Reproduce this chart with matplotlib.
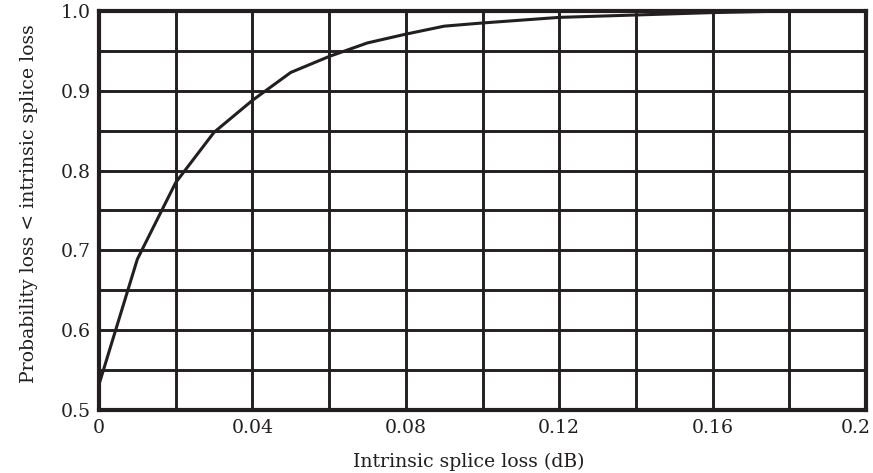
import matplotlib
matplotlib.use("Agg")
import matplotlib.pyplot as plt
import matplotlib.transforms as mtransforms

# Cumulative probability of intrinsic splice loss
loss_db = [0.0, 0.01, 0.02, 0.03, 0.04, 0.05, 0.06, 0.07, 0.08, 0.09,
           0.10, 0.12, 0.14, 0.16, 0.18, 0.19]
probability = [0.532, 0.689, 0.785, 0.848, 0.888, 0.923, 0.943, 0.960, 0.971, 0.981,
               0.985, 0.992, 0.995, 0.998, 1.0, 1.0]

x_ticks = [0.0, 0.04, 0.08, 0.12, 0.16, 0.20]
x_tick_labels = ["0", "0.04", "0.08", "0.12", "0.16", "0.2"]
y_ticks = [0.5, 0.6, 0.7, 0.8, 0.9, 1.0]
y_tick_labels = ["0.5", "0.6", "0.7", "0.8", "0.9", "1.0"]
x_grid = [i * 0.02 for i in range(11)]
y_grid = [0.5 + i * 0.05 for i in range(11)]

ink = "#231f20"
plt.rcParams["font.family"] = ["DejaVu Serif"]
fs = 13.6

fig = plt.figure(figsize=(8.73, 4.73), dpi=100)
ax = fig.add_axes([99 / 873, 1 - 410 / 473, 767 / 873, 399 / 473])

for xv in x_grid:
    ax.axvline(xv, color=ink, lw=2.1, zorder=1)
for yv in y_grid:
    ax.axhline(yv, color=ink, lw=2.1, zorder=1)

ax.plot(loss_db, probability, color=ink, lw=2.2, zorder=3, clip_on=False,
        solid_joinstyle="miter")

ax.set_xlim(0, 0.2)
ax.set_ylim(0.5, 1.0)
ax.set_xticks(x_ticks)
ax.set_xticklabels(x_tick_labels)
ax.set_yticks(y_ticks)
ax.set_yticklabels(y_tick_labels)
ax.tick_params(length=0, labelsize=fs, colors=ink)
ax.tick_params(axis="x", pad=6.5)
ax.tick_params(axis="y", pad=6.0)

for side in ["left", "right", "top", "bottom"]:
    ax.spines[side].set_color(ink)
    ax.spines[side].set_linewidth(3)
    ax.spines[side].set_zorder(4)

# keep the last x label inside the figure
last = ax.get_xticklabels()[-1]
last.set_transform(last.get_transform() +
                   mtransforms.ScaledTranslation(-10 / 100, 0, fig.dpi_scale_trans))

ax.set_xlabel("Intrinsic splice loss (dB)", fontsize=fs, color=ink)
ax.set_ylabel("Probability loss < intrinsic splice loss", fontsize=fs, color=ink)
ax.xaxis.set_label_coords(0.4815, -0.106)
ax.yaxis.set_label_coords(-0.080, 0.5175)

fig.savefig("out.png", dpi=100, facecolor="white")
